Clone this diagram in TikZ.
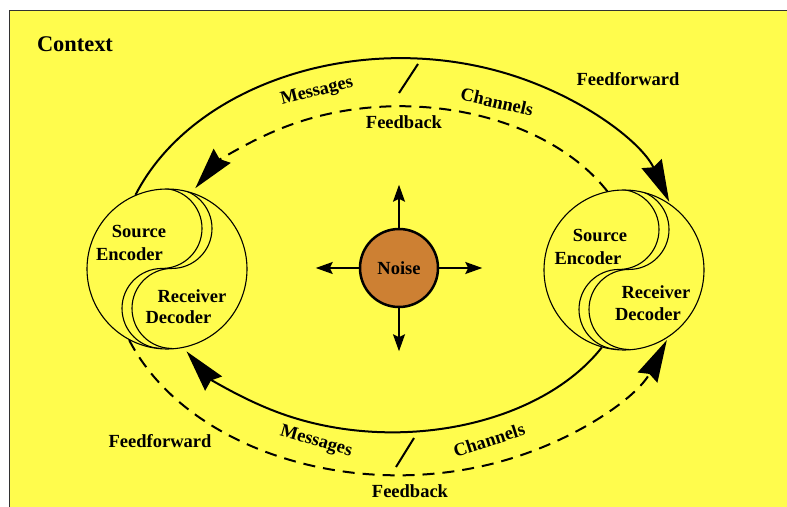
\documentclass[tikz,border=0pt]{standalone}
\usepackage{fontspec}
\setmainfont{Liberation Serif}
\definecolor{ctxyellow}{RGB}{255,252,77}
\definecolor{noisebrown}{RGB}{205,128,51}
\definecolor{framegray}{RGB}{50,50,50}
\usetikzlibrary{arrows.meta, calc}

\begin{document}
\begin{tikzpicture}[x=1pt, y=1pt,
  party/.style={circle, draw, line width=1.1pt, minimum size=160pt, inner sep=0pt},
  lbl/.style={font=\fontsize{18.5}{22}\selectfont\bfseries, inner sep=0pt, anchor=base},
  flow/.style={line width=2pt, -{Stealth[length=42pt, width=22pt, inset=4pt]}},
  back/.style={flow, dash pattern=on 12pt off 8pt},
  spread/.style={line width=2pt, -{Stealth[length=17pt, width=12pt, inset=3pt]}},
  yin/.style={line width=1.1pt},
]
\useasboundingbox (0,0) rectangle (787,506);
\clip (0,0) rectangle (787,506);

% Context
\fill[white] (0,0) rectangle (787,506);
\fill[ctxyellow] (9.5,-10) rectangle (800,495.5);
\draw[framegray, line width=1.5pt] (9.5,-10) -- (9.5,495.5) -- (800,495.5);
\node[lbl, font=\fontsize{22.4}{26}\selectfont\bfseries] (ctx) at (75,454) {Context};

% Two parties
\node[party] (lcirc) at (167,237) {};
\node[party] (rcirc) at (624,236) {};
\foreach \p in {lcirc, rcirc} {
  \begin{scope}
    \clip (\p) circle (80pt);
    \foreach \dx in {-5,5}
      \draw[yin] ($(\p.north)+(\dx,0)$) arc[start angle=90, end angle=-90, radius=40pt]
                 arc[start angle=90, end angle=270, radius=40pt];
  \end{scope}
}
\node[lbl] (lsrc) at (139,268) {Source};
\node[lbl] (lenc) at (129.5,245) {Encoder};
\node[lbl] (lrcv) at (192,203) {Receiver};
\node[lbl] (ldec) at (178.5,182) {Decoder};
\node[lbl] (rsrc) at (600,264) {Source};
\node[lbl] (renc) at (588,241) {Encoder};
\node[lbl] (rrcv) at (656,207) {Receiver};
\node[lbl] (rdec) at (648,185) {Decoder};

% Noise
\node[circle, draw, line width=2.5pt, fill=noisebrown, minimum size=78pt, inner sep=0pt,
      font=\fontsize{18.5}{22}\selectfont\bfseries] (noise) at (399,238) {Noise};
\foreach \a in {0,90,180,270} {
  \coordinate (n\a) at ($(noise.\a)+(\a:43)$);
  \draw[spread] (noise.\a) -- (n\a);
}

% Upper arcs
\draw[flow] (lcirc.113) arc[start angle=159, end angle=19, x radius=284pt, y radius=213pt];
\draw[back] (rcirc.102) arc[start angle=28.6, end angle=150.2, x radius=236pt, y radius=163pt];
\coordinate (ttop1) at (399,413);
\coordinate (ttop2) at (418,442);
\draw[line width=2pt] (ttop1) -- (ttop2);
\node[lbl, anchor=center, rotate=14] (msgtop) at (317,414) {Messages};
\node[lbl, anchor=center, rotate=-13] (chntop) at (497,404) {Channels};
\node[lbl] (fbtop) at (404,377) {Feedback};
\node[lbl] (fftop) at (628,420) {Feedforward};

% Lower arcs
\draw[flow] (rcirc.254) arc[start angle=-28, end angle=-150.4, x radius=237pt, y radius=160pt];
\draw[back] (lcirc.242) arc[start angle=200.5, end angle=339.5, x radius=287pt, y radius=208pt];
\coordinate (tbot1) at (396,39);
\coordinate (tbot2) at (414,68);
\draw[line width=2pt] (tbot1) -- (tbot2);
\node[lbl, anchor=center, rotate=-16] (msgbot) at (316,64) {Messages};
\node[lbl, anchor=center, rotate=18] (chnbot) at (489,66) {Channels};
\node[lbl] (ffbot) at (160,58) {Feedforward};
\node[lbl] (fbbot) at (410,9) {Feedback};
\end{tikzpicture}
\end{document}
